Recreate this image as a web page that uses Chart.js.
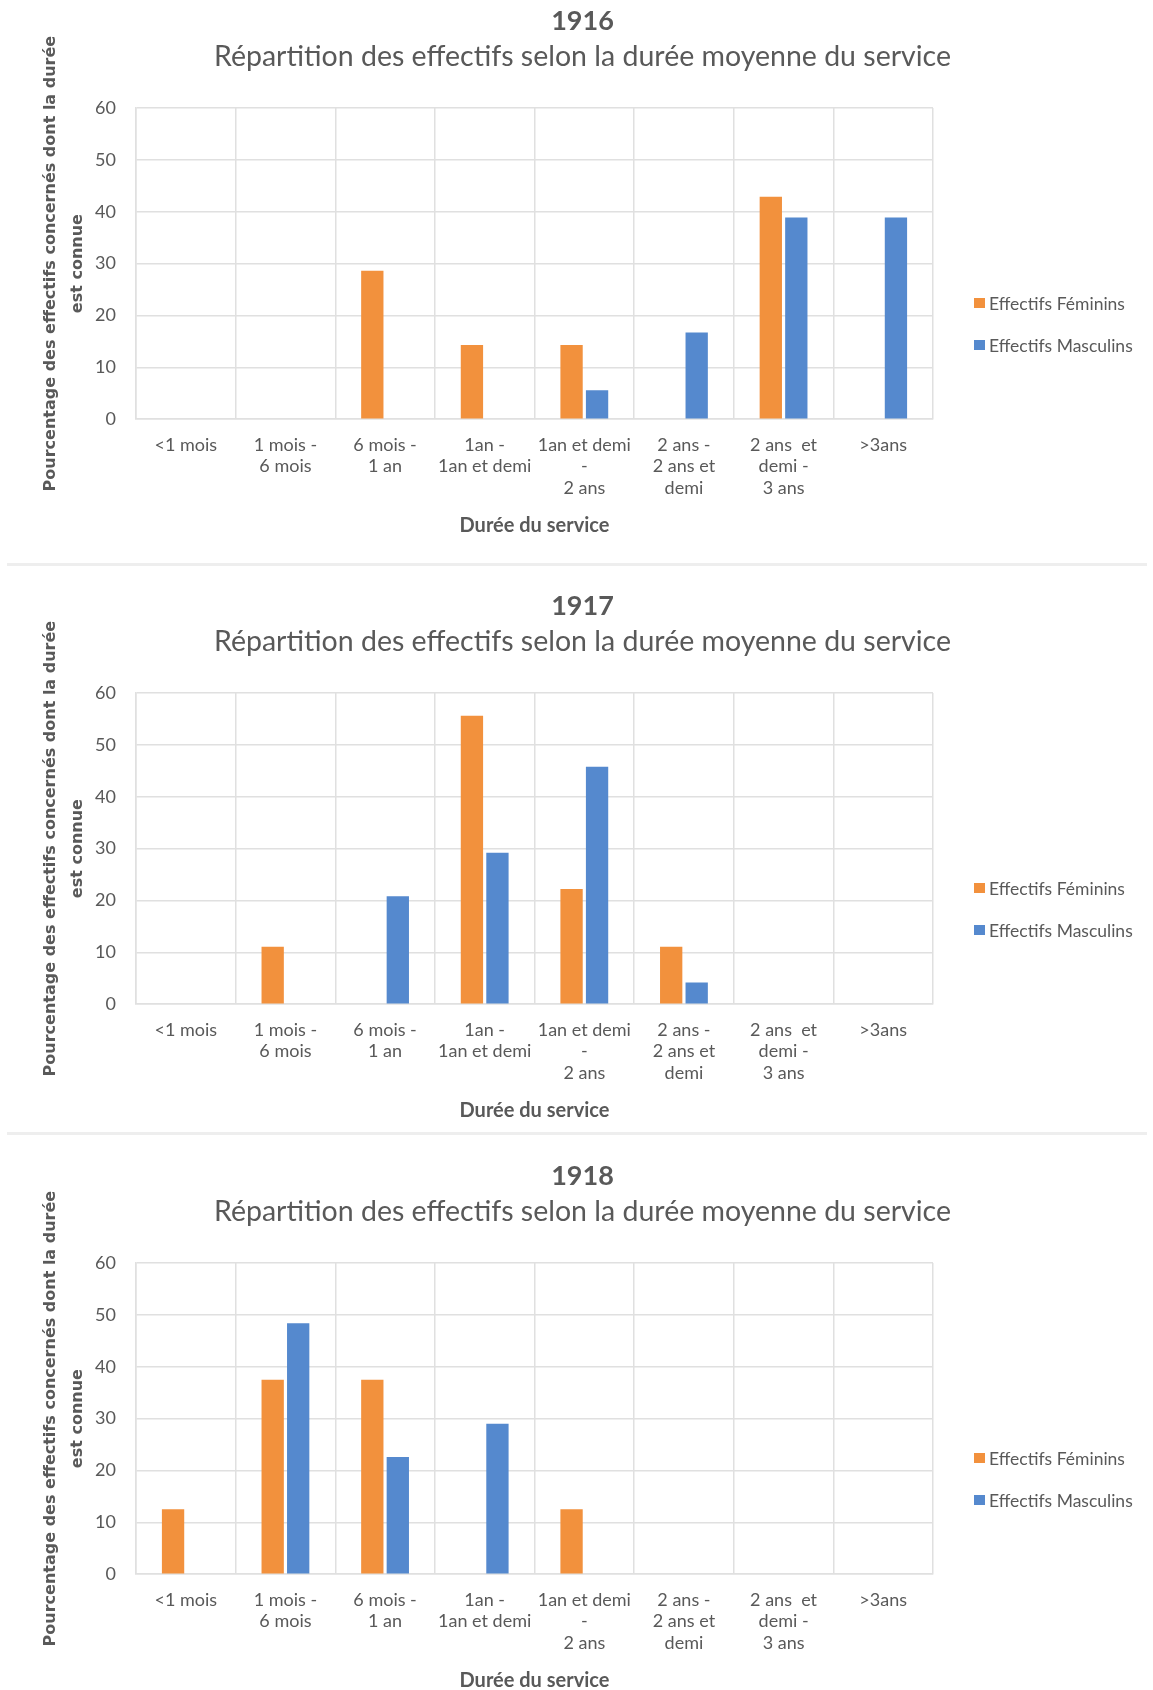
<!DOCTYPE html>
<html lang="fr">
<head>
<meta charset="utf-8">
<title>Répartition des effectifs selon la durée moyenne du service</title>
<script src="https://cdn.jsdelivr.net/npm/chart.js@4.4.1/dist/chart.umd.min.js"></script>
<style>
    html, body { margin: 0; padding: 0; background: #fff; overflow: hidden; }
    #page { position: relative; width: 1153px; height: 1690px; overflow: hidden; }
    .chart-box { position: absolute; left: 0; width: 1153px; height: 560px; }
    .sep { position: absolute; left: 7px; width: 1140px; height: 3px; background: #eeeeee; }
    .legend { position: absolute; left: 974px; top: 282px; font-family: Lato, sans-serif; font-size: 17.5px; color: #595959; }
    .legend .item { height: 42px; display: flex; align-items: center; white-space: nowrap; }
    .legend .box { display: inline-block; width: 11px; height: 10px; margin-right: 4px; }
</style>
</head>
<body>
<div id="page">
    <div class="chart-box" style="top:0px"><canvas id="chart1916"></canvas><div class="legend" id="legend1916"></div></div>
    <div class="sep" style="top:563px"></div>
    <div class="chart-box" style="top:585px"><canvas id="chart1917"></canvas><div class="legend" id="legend1917"></div></div>
    <div class="sep" style="top:1132px"></div>
    <div class="chart-box" style="top:1155px"><canvas id="chart1918"></canvas><div class="legend" id="legend1918"></div></div>
</div>
<script>
// DATA (PERCENTAGES)
const categories = ['<1 mois', ['1 mois -', '6 mois'], ['6 mois -', '1 an'], ['1an -', '1an et demi'],
    ['1an et demi', '-', '2 ans'], ['2 ans -', '2 ans et', 'demi'], ['2 ans  et', 'demi -', '3 ans'], '>3ans'];
const seriesNames = ['Effectifs Féminins', 'Effectifs Masculins'];
const yTicks = [0, 10, 20, 30, 40, 50, 60];

const femmes1916 = [0, 0, 28.6, 14.3, 14.3, 0, 42.9, 0];
const hommes1916 = [0, 0, 0, 0, 5.6, 16.7, 38.9, 38.9];
const femmes1917 = [0, 11.1, 0, 55.6, 22.2, 11.1, 0, 0];
const hommes1917 = [0, 0, 20.8, 29.2, 45.8, 4.2, 0, 0];
const femmes1918 = [12.5, 37.5, 37.5, 0, 12.5, 0, 0, 0];
const hommes1918 = [0, 48.4, 22.6, 29.0, 0, 0, 0, 0];

const mainTitle = 'Répartition des effectifs selon la durée moyenne du service';
const xTitle = 'Durée du service';
const yTitle = ['Pourcentage des effectifs concernés dont la durée', 'est connue'];

// STYLE
const GREY = '#595959';
const GRID = '#e0e0e0';
const ORANGE = '#F2913D';
const BLUE = '#5589CE';
const FONT = 'Lato, "Liberation Sans", sans-serif';

function buildLegend(chart, el) {
    el.innerHTML = '';
    chart.data.datasets.forEach(ds => {
        const row = document.createElement('div');
        row.className = 'item';
        const box = document.createElement('span');
        box.className = 'box';
        box.style.background = ds.backgroundColor;
        row.appendChild(box);
        row.appendChild(document.createTextNode(ds.label));
        el.appendChild(row);
    });
}

function drawChart(year, fem, masc) {
    const ctx = document.getElementById('chart' + year).getContext('2d');
    const chart = new Chart(ctx, {
        type: 'bar',
        data: {
            labels: categories,
            datasets: [
                { label: seriesNames[0], data: fem, backgroundColor: ORANGE, categoryPercentage: 0.512, barPercentage: 0.875 },
                { label: seriesNames[1], data: masc, backgroundColor: BLUE, categoryPercentage: 0.512, barPercentage: 0.875 }
            ]
        },
        options: {
            responsive: true,
            maintainAspectRatio: false,
            animation: false,
            layout: { padding: { top: 5, left: 12, right: 0, bottom: 19 } },
            plugins: {
                legend: { display: false },
                title: {
                    display: true, text: year, color: GREY,
                    font: { family: FONT, size: 27, weight: 'bold', lineHeight: 1.2 },
                    padding: { top: 0, bottom: 2 }
                },
                subtitle: {
                    display: true, text: mainTitle, color: GREY,
                    font: { family: FONT, size: 28.5, weight: 'normal', lineHeight: 1.2 },
                    padding: { top: 0, bottom: 34.4 }
                }
            },
            scales: {
                x: {
                    grid: { color: GRID, lineWidth: 1.5, drawTicks: false },
                    border: { color: GRID, width: 1.5 },
                    ticks: { color: GREY, font: { family: FONT, size: 18, lineHeight: 1.2 }, padding: 15, maxRotation: 0, autoSkip: false },
                    title: {
                        display: true, text: xTitle, color: GREY,
                        font: { family: FONT, size: 20, weight: 'bold', lineHeight: 1.2 },
                        padding: { top: 0, bottom: 3 }
                    }
                },
                y: {
                    min: yTicks[0],
                    max: yTicks[yTicks.length - 1],
                    afterBuildTicks: s => { s.ticks = yTicks.map(v => ({ value: v })); },
                    grid: { color: GRID, lineWidth: 1.5, drawTicks: false },
                    border: { color: GRID, width: 1.5 },
                    ticks: { color: GREY, font: { family: FONT, size: 18 }, padding: 20 },
                    title: {
                        display: true, text: yTitle, color: GREY,
                        font: { family: '"DejaVu Sans", sans-serif', size: 16, weight: 'bold', lineHeight: 1.7 },
                        padding: { top: 25, bottom: 0 }
                    },
                    afterFit: s => { s.width = 124; }
                },
                // EMPTY AXIS ON THE RIGHT, KEEPS ROOM FOR THE LEGEND
                legendSpace: {
                    position: 'right',
                    grid: { display: false },
                    border: { display: false },
                    ticks: { display: false },
                    afterFit: s => { s.width = 220; }
                }
            }
        }
    });
    buildLegend(chart, document.getElementById('legend' + year));
}

drawChart('1916', femmes1916, hommes1916);
drawChart('1917', femmes1917, hommes1917);
drawChart('1918', femmes1918, hommes1918);
</script>
</body>
</html>
